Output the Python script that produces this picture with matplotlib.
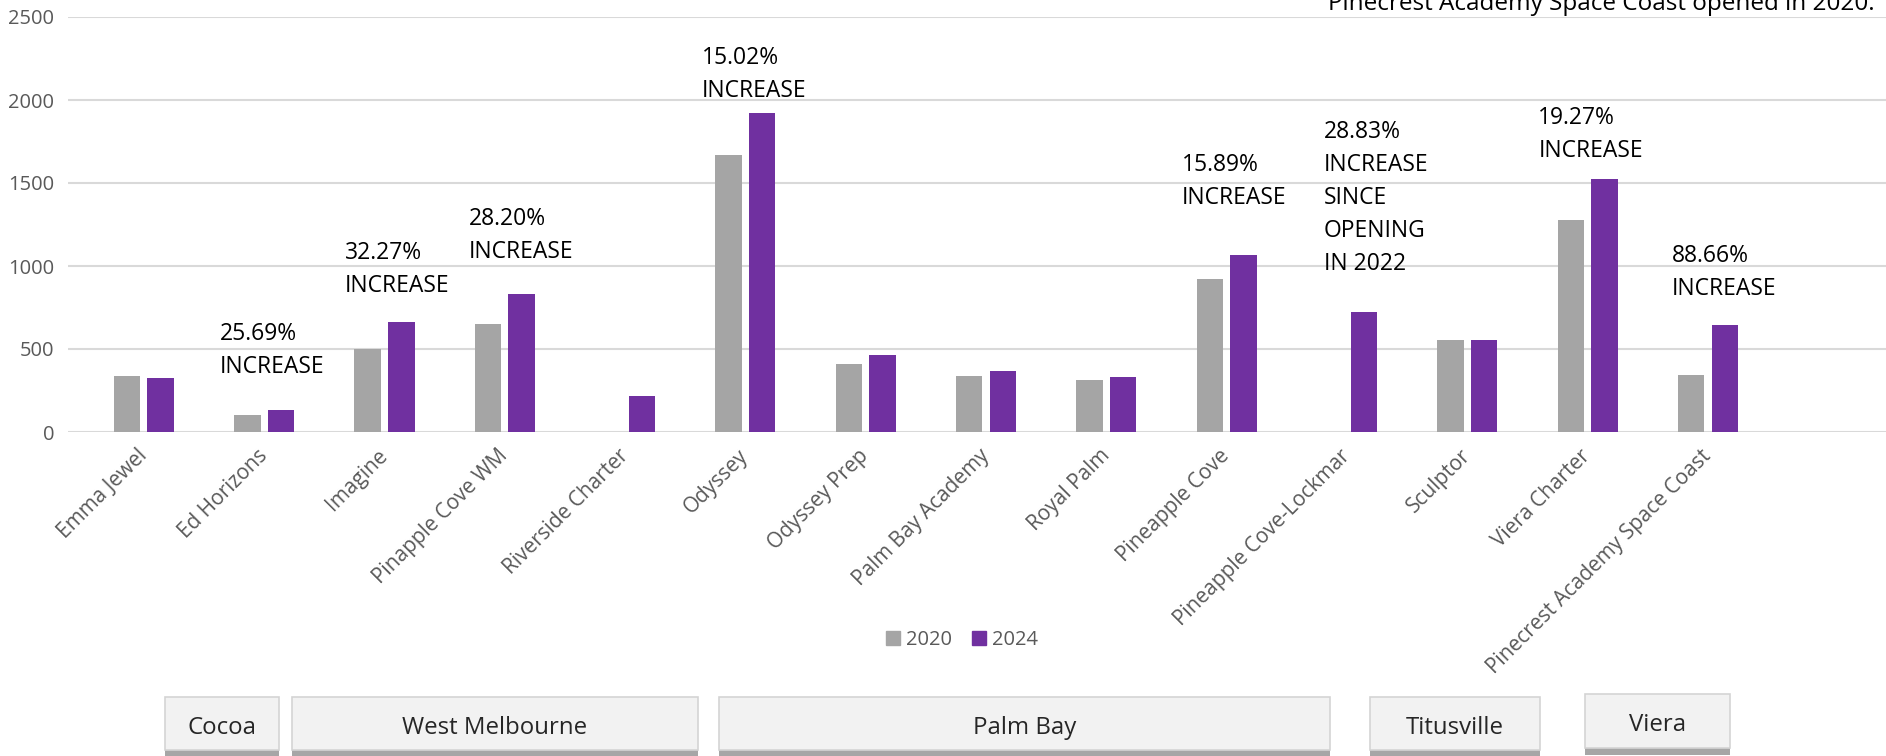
import matplotlib
matplotlib.use("Agg")
import matplotlib.pyplot as plt
from matplotlib.patches import Rectangle, Patch

plt.rcParams['font.family'] = ['Open Sans', 'DejaVu Sans']

# Enrollment by school
schools = ['Emma Jewel', 'Ed Horizons', 'Imagine', 'Pinapple Cove WM', 'Riverside Charter',
           'Odyssey', 'Odyssey Prep', 'Palm Bay Academy', 'Royal Palm', 'Pineapple Cove',
           'Pineapple Cove-Lockmar', 'Sculptor', 'Viera Charter', 'Pinecrest Academy Space Coast']
enroll_2020 = [336, 105, 500, 650, 0, 1670, 412, 335, 315, 920, 0, 553, 1280, 343]
enroll_2024 = [328, 132, 661, 833, 216, 1921, 462, 365, 332, 1066, 720, 556, 1527, 647]

# percentage notes: (school index, text)
notes_idx = [1, 2, 3, 5, 9, 10, 12, 13]
notes_txt = ['25.69%\nINCREASE', '32.27%\nINCREASE', '28.20%\nINCREASE', '15.02%\nINCREASE',
             '15.89%\nINCREASE', '28.83%\nINCREASE\nSINCE\nOPENING\nIN 2022',
             '19.27%\nINCREASE', '88.66%\nINCREASE']

regions = ['Cocoa', 'West Melbourne', 'Palm Bay', 'Titusville', 'Viera']

# layout (pixels)
W, H = 1886, 756
note_pos = [(-0.37, 660), (-0.33, 1152), (-0.30, 1355), (-0.36, 2326),
            (-0.37, 1681), (-0.19, 1877), (-0.41, 1964), (-0.30, 1130)]
region_px = [(165, 279, 697), (292, 698, 697), (719, 1330, 697), (1370, 1540, 697), (1585, 1730, 694)]

GRAY = '#a5a5a5'
PURPLE = '#7030a0'
TXT = '#595959'

fig = plt.figure(figsize=(W / 100, H / 100), dpi=100)
ax = fig.add_axes([68 / W, 1 - 432 / H, 1 - 68 / W, (432 - 17) / H])

x = list(range(len(schools)))
bw = 0.22
ax.bar([i - 0.14 for i in x], enroll_2020, width=bw, color=GRAY, label='2020')
ax.bar([i + 0.14 for i in x], enroll_2024, width=bw, color=PURPLE, label='2024')

ax.set_xlim(-0.63, 14.48)
ax.set_ylim(0, 2500)
ax.set_yticks(range(0, 2501, 500))
ax.yaxis.grid(True, color='#d9d9d9', lw=1.5)
ax.set_axisbelow(True)
for s in ax.spines.values():
    s.set_visible(False)
ax.tick_params(axis='y', length=0, pad=10, labelsize=14.5, labelcolor=TXT)
ax.tick_params(axis='x', length=0, pad=15, labelsize=15, labelcolor=TXT)
ax.set_xticks(x)
ax.set_xticklabels(schools, rotation=45, ha='right', va='center', rotation_mode='anchor')

for idx, txt, (dx, yv) in zip(notes_idx, notes_txt, note_pos):
    ax.text(idx + dx, yv, txt, ha='left', va='top', fontsize=16.5, linespacing=1.5,
            color='black', clip_on=False)

# note at the top right (partly cut by the top edge, as in the original)
fig.text(1328 / W, 1 - 10 / H, 'Pinecrest Academy Space Coast opened in 2020.',
         ha='left', va='baseline', fontsize=17.5, color='black')

handles = [Patch(color=GRAY, label='2020'), Patch(color=PURPLE, label='2024')]
fig.legend(handles=handles, loc='center', bbox_to_anchor=(962 / W, 1 - 640 / H), ncol=2,
           frameon=False, handlelength=0.7, handleheight=0.7, handletextpad=0.3,
           columnspacing=1.0, fontsize=14.5, labelcolor=TXT)

# region boxes along the bottom
for name, (x0, x1, top) in zip(regions, region_px):
    bottom = 750 if name != 'Viera' else 748
    fig.patches.append(Rectangle((x0 / W, 1 - (bottom + 7) / H), (x1 - x0) / W, (bottom + 7 - top) / H,
                                 transform=fig.transFigure, facecolor='#a6a6a6', edgecolor='none'))
    fig.patches.append(Rectangle((x0 / W, 1 - bottom / H), (x1 - x0) / W, (bottom - top) / H,
                                 transform=fig.transFigure, facecolor='#f2f2f2',
                                 edgecolor='#d4d4d4', lw=1.2))
    fig.text((x0 + x1) / 2 / W, 1 - (top + 31) / H, name, ha='center', va='center',
             fontsize=17.3, color='#262626')

fig.savefig('out.png', dpi=100)
